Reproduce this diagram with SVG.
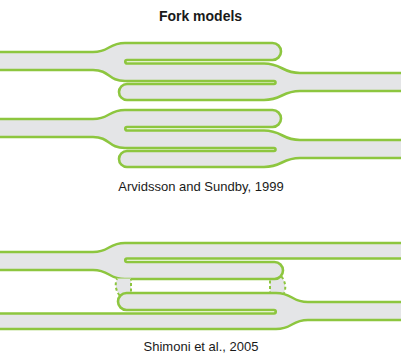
<svg xmlns="http://www.w3.org/2000/svg" xmlns:xlink="http://www.w3.org/1999/xlink" width="401" height="361" viewBox="0 0 401 361">
  <style>
    .dna { fill: #e4e5e7; stroke: none; }
    .strand { fill: none; stroke: #8dc63f; stroke-width: 2.6; stroke-linejoin: round; stroke-linecap: round; }
    .gap { fill: #e4e5e7; stroke: none; }
    .ss { fill: none; stroke: #8dc63f; stroke-width: 2; stroke-dasharray: 3 2.5; }
    .title { font-family: "Liberation Sans", Arial, sans-serif; font-size: 14px; font-weight: bold; fill: #1a1a1a; text-anchor: middle; }
    .caption { font-family: "Liberation Sans", Arial, sans-serif; font-size: 13px; fill: #1a1a1a; text-anchor: middle; }
  </style>
  <defs>
    <!-- Two interleaved forks: left parental duplex, right parental duplex -->
    <g id="fork-pair">
      <path class="dna" d="M -5 52 H 93 C 110 52 108 43 125 43 H 272.5 A 8.5 8.5 0 0 1 272.5 60 H 127 A 1.75 1.75 0 0 0 127 63.5 H 264 C 282 63.5 282 73 300 73 H 406 V 91 H 300 C 282 91 282 100 264 100 H 127 A 8 8 0 0 1 127 84 H 274 A 1.5 1.5 0 0 0 274 81 H 125 C 108 81 110 70 93 70 H -5 Z"/>
      <path class="strand" d="M -5 52 H 93 C 110 52 108 43 125 43 H 272.5 A 8.5 8.5 0 0 1 272.5 60 H 127 A 1.75 1.75 0 0 0 127 63.5 H 264 C 282 63.5 282 73 300 73 H 406"/>
      <path class="strand" d="M -5 70 H 93 C 110 70 108 81 125 81 H 274 A 1.5 1.5 0 0 1 274 84 H 127 A 8 8 0 0 0 127 100 H 264 C 282 100 282 91 300 91 H 406"/>
    </g>
    <!-- One half of the second model: fork with a capped daughter and a single-stranded bridge -->
    <g id="half-fork">
      <path class="gap" d="M 270 280 L 281.5 276.5 Q 287.5 285 284 293.5 L 270 293.5 Z"/>
      <path class="ss" d="M 270 280.5 V 293"/>
      <path class="ss" d="M 281.5 276.5 Q 287.5 285 284 293"/>
      <path class="dna" d="M -5 252 H 93 C 110 252 108 243 125 243 H 406 V 258.5 H 127 A 1.75 1.75 0 0 0 127 262 H 274.5 A 8.5 8.5 0 0 1 274.5 279 H 125 C 108 279 110 270 93 270 H -5 Z"/>
      <path class="strand" d="M -5 252 H 93 C 110 252 108 243 125 243 H 406"/>
      <path class="strand" d="M 406 258.5 H 127 A 1.75 1.75 0 0 0 127 262 H 274.5 A 8.5 8.5 0 0 1 274.5 279 H 125 C 108 279 110 270 93 270 H -5"/>
    </g>
  </defs>

  <g id="title">
    <text class="title" x="200.5" y="21">Fork models</text>
  </g>

  <g id="model-arvidsson">
    <use xlink:href="#fork-pair"/>
    <use xlink:href="#fork-pair" transform="translate(0 67)"/>
    <text class="caption" x="201" y="191">Arvidsson and Sundby, 1999</text>
  </g>

  <g id="model-shimoni">
    <use xlink:href="#half-fork"/>
    <use xlink:href="#half-fork" transform="rotate(180 200.5 286)"/>
    <text class="caption" x="201" y="351">Shimoni et al., 2005</text>
  </g>
</svg>
